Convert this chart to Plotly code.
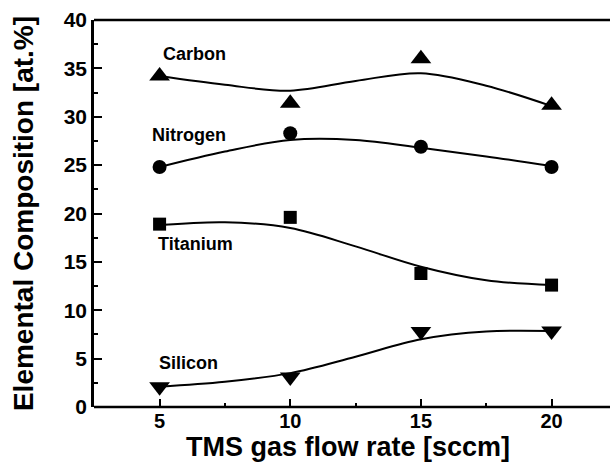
import plotly.graph_objects as go

# measured points
x = [5, 10, 15, 20]
carbon = [34.2, 31.4, 36.0, 31.2]
nitrogen = [24.8, 28.3, 26.9, 24.8]
titanium = [18.9, 19.6, 13.8, 12.6]
silicon = [2.1, 3.1, 7.8, 7.85]

# fitted curves
x_fit = [5, 7.5, 10, 12.5, 15, 17.5, 20]
carbon_fit = [34.2, 33.3, 32.7, 33.7, 34.5, 33.2, 31.1]
nitrogen_fit = [24.8, 26.4, 27.6, 27.6, 26.8, 25.9, 24.9]
titanium_fit = [18.8, 19.1, 18.5, 16.6, 14.5, 13.1, 12.6]
silicon_fit = [2.1, 2.6, 3.5, 5.2, 7.0, 7.8, 7.85]

labels = ["Carbon", "Nitrogen", "Titanium", "Silicon"]
label_x = [5.06, 4.62, 4.85, 4.89]
label_y = [36.5, 28.1, 16.8, 4.5]

FONT = "Liberation Sans"

fig = go.Figure()
for yf in [carbon_fit, nitrogen_fit, titanium_fit, silicon_fit]:
    fig.add_trace(go.Scatter(x=x_fit, y=yf, mode="lines",
                             line=dict(color="black", width=2, shape="spline", smoothing=1.0),
                             showlegend=False, hoverinfo="skip"))

series = [(carbon, "triangle-up", 18), (nitrogen, "circle", 14),
          (titanium, "square", 13), (silicon, "triangle-down", 18)]
for ys, sym, sz in series:
    fig.add_trace(go.Scatter(x=x, y=ys, mode="markers",
                             marker=dict(symbol=sym, size=sz, color="black"),
                             showlegend=False))

for t, lx, ly in zip(labels, label_x, label_y):
    fig.add_annotation(x=lx, y=ly, text="<b>%s</b>" % t, showarrow=False,
                       xanchor="left", yanchor="middle",
                       font=dict(family=FONT, size=18, color="black"))

# top and bottom frame lines run on to the page edge
for yd in (0, 1):
    fig.add_shape(type="line", xref="paper", yref="y domain", x0=0, x1=1.02, y0=yd, y1=yd,
                  line=dict(color="black", width=2.5))

fig.update_layout(
    width=610, height=467,
    margin=dict(l=94, r=8, t=20, b=60),
    plot_bgcolor="white", paper_bgcolor="white",
    font=dict(family=FONT, color="black"),
)
fig.update_xaxes(range=[2.49, 21.93], showline=False, mirror=False,
                 showgrid=False, zeroline=False, ticks="inside", ticklen=8, tickwidth=2,
                 tickcolor="black", tickvals=[5, 10, 15, 20],
                 ticktext=["<b>5</b>", "<b>10</b>", "<b>15</b>", "<b>20</b>"],
                 tickfont=dict(family=FONT, size=20),
                 minor=dict(ticks="inside", ticklen=4, tickwidth=2, tickcolor="black", dtick=2.5, tick0=0,
                            showgrid=False),
                 title=dict(text="<b>TMS gas flow rate [sccm]</b>", font=dict(family=FONT, size=27), standoff=4))
fig.update_yaxes(range=[0, 40], showline=True, mirror=False, linecolor="black", linewidth=2.5,
                 showgrid=False, zeroline=False, ticks="inside", ticklen=8, tickwidth=2,
                 tickcolor="black", tickvals=[0, 5, 10, 15, 20, 25, 30, 35, 40],
                 ticktext=["<b>%d</b>" % v for v in [0, 5, 10, 15, 20, 25, 30, 35, 40]],
                 tickfont=dict(family=FONT, size=21),
                 minor=dict(ticks="inside", ticklen=4, tickwidth=2, tickcolor="black", dtick=2.5, tick0=0,
                            showgrid=False),
                 title=dict(text="<b>Elemental Composition [at.%]</b>", font=dict(family=FONT, size=28), standoff=22))

fig.write_html("out.html")
